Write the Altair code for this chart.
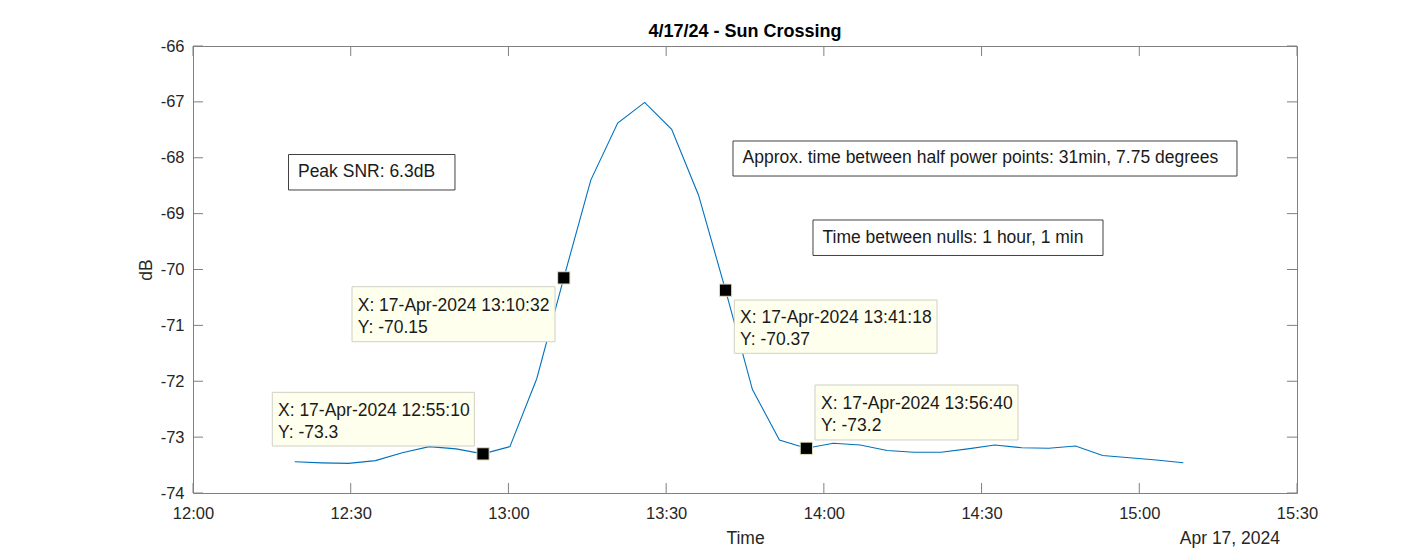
import altair as alt
import pandas as pd

# ---- measured series ----
times = [
    "2024-04-17T12:19:21", "2024-04-17T12:24:28", "2024-04-17T12:29:35", "2024-04-17T12:34:42",
    "2024-04-17T12:39:49", "2024-04-17T12:44:56", "2024-04-17T12:50:03", "2024-04-17T12:55:10",
    "2024-04-17T13:00:17", "2024-04-17T13:05:24", "2024-04-17T13:10:32", "2024-04-17T13:15:40",
    "2024-04-17T13:20:47", "2024-04-17T13:25:55", "2024-04-17T13:31:03", "2024-04-17T13:36:10",
    "2024-04-17T13:41:18", "2024-04-17T13:46:25", "2024-04-17T13:51:33", "2024-04-17T13:56:40",
    "2024-04-17T14:01:47", "2024-04-17T14:06:55", "2024-04-17T14:12:02", "2024-04-17T14:17:09",
    "2024-04-17T14:22:17", "2024-04-17T14:27:24", "2024-04-17T14:32:31", "2024-04-17T14:37:39",
    "2024-04-17T14:42:46", "2024-04-17T14:47:53", "2024-04-17T14:53:01", "2024-04-17T14:58:08",
    "2024-04-17T15:03:15", "2024-04-17T15:08:23",
]
db = [
    -73.44, -73.46, -73.47, -73.42, -73.28, -73.17, -73.21, -73.30,
    -73.17, -71.95, -70.15, -68.40, -67.38, -67.01, -67.49, -68.67,
    -70.37, -72.15, -73.05, -73.20, -73.11, -73.14, -73.24, -73.27,
    -73.27, -73.21, -73.14, -73.19, -73.20, -73.16, -73.33, -73.37,
    -73.41, -73.46,
]

# ---- data tips ----
marker_times = ["2024-04-17T12:55:10", "2024-04-17T13:10:32", "2024-04-17T13:41:18", "2024-04-17T13:56:40"]
marker_db = [-73.3, -70.15, -70.37, -73.2]
tip_labels = [
    "X: 17-Apr-2024 12:55:10\nY: -73.3",
    "X: 17-Apr-2024 13:10:32\nY: -70.15",
    "X: 17-Apr-2024 13:41:18\nY: -70.37",
    "X: 17-Apr-2024 13:56:40\nY: -73.2",
]
tip_x0 = ["2024-04-17T12:15:05", "2024-04-17T12:30:15", "2024-04-17T13:42:58", "2024-04-17T13:58:19"]
tip_x1 = ["2024-04-17T12:53:31", "2024-04-17T13:08:52", "2024-04-17T14:21:32", "2024-04-17T14:36:56"]
tip_y0 = [-72.198, -70.308, -70.546, -72.067]
tip_y1 = [-73.159, -71.292, -71.500, -73.051]
tip_tx = ["2024-04-17T12:16:10", "2024-04-17T12:31:20", "2024-04-17T13:44:03", "2024-04-17T13:59:28"]
tip_ty = [-72.53, -70.65, -70.87, -72.41]

# ---- text boxes ----
note_labels = [
    "Peak SNR: 6.3dB",
    "Approx. time between half power points: 31min, 7.75 degrees",
    "Time between nulls: 1 hour, 1 min",
]
note_x0 = ["2024-04-17T12:18:10", "2024-04-17T13:42:43", "2024-04-17T13:57:56"]
note_x1 = ["2024-04-17T12:49:50", "2024-04-17T15:18:35", "2024-04-17T14:53:06"]
note_y0 = [-67.942, -67.700, -69.114]
note_y1 = [-68.577, -68.327, -69.749]
note_tx = ["2024-04-17T12:19:58", "2024-04-17T13:44:32", "2024-04-17T13:59:44"]
note_ty = [-68.255, -68.013, -69.431]

# ---- axes / titles ----
title_text = "4/17/24 - Sun Crossing"
date_text = "Apr 17, 2024"
x_tick_hm = [(12, 0), (12, 30), (13, 0), (13, 30), (14, 0), (14, 30), (15, 0), (15, 30)]
x_tick_str = ["2024-04-17T%02d:%02d:00" % hm for hm in x_tick_hm]
y_ticks = [-74, -73, -72, -71, -70, -69, -68, -67, -66]

FONT = "Liberation Sans"
W, H = 1104, 447


def dt(h, m):
    return alt.DateTime(year=2024, month=4, date=17, hours=h, minutes=m)


xscale = alt.Scale(domain=[dt(12, 0), dt(15, 30)], nice=False)
yscale = alt.Scale(domain=[-74, -66], nice=False, zero=False)
AX = dict(domain=False, ticks=False, grid=False, labelFont=FONT, labelFontSize=16.5,
          labelColor="#262626", titleFont=FONT, titleFontSize=17.5,
          titleFontWeight="normal", titleColor="#262626")
xaxis = alt.Axis(values=[dt(h, m) for h, m in x_tick_hm], format="%H:%M",
                 title="Time", labelPadding=12, titlePadding=8,
                 labelFlush=False, labelOverlap=False, **AX)
yaxis = alt.Axis(values=y_ticks, title="dB", labelPadding=9, titlePadding=5,
                 labelExpr="toString(datum.value)", **AX)

series = pd.DataFrame({"t": times, "db": db})
markers = pd.DataFrame({"t": marker_times, "db": marker_db})
tips = pd.DataFrame({"label": tip_labels, "x0": tip_x0, "x1": tip_x1, "y0": tip_y0,
                     "y1": tip_y1, "tx": tip_tx, "ty": tip_ty})
notes = pd.DataFrame({"label": note_labels, "x0": note_x0, "x1": note_x1, "y0": note_y0,
                      "y1": note_y1, "tx": note_tx, "ty": note_ty})
xt = pd.DataFrame({"t": x_tick_str})
yt = pd.DataFrame({"v": y_ticks})


def X(f):
    return alt.X(f, scale=xscale, axis=xaxis)


def Y(f):
    return alt.Y(f, scale=yscale, axis=yaxis)


line = alt.Chart(series).mark_line(color="#0072BD", strokeWidth=1.1).encode(
    x=X("t:T"), y=Y("db:Q"))

xt_bottom = alt.Chart(xt).mark_rule(color="#808080", strokeWidth=1).encode(
    x=X("t:T"), y=alt.value(H), y2=alt.value(H - 10))
xt_top = alt.Chart(xt).mark_rule(color="#808080", strokeWidth=1).encode(
    x=X("t:T"), y=alt.value(0), y2=alt.value(10))
yt_left = alt.Chart(yt).mark_rule(color="#808080", strokeWidth=1).encode(
    y=Y("v:Q"), x=alt.value(0), x2=alt.value(10))
yt_right = alt.Chart(yt).mark_rule(color="#808080", strokeWidth=1).encode(
    y=Y("v:Q"), x=alt.value(W), x2=alt.value(W - 10))

tip_box = alt.Chart(tips).mark_rect(fill="#FFFFEE", stroke="#d0d0c4", strokeWidth=1).encode(
    x=X("x0:T"), x2="x1:T", y=Y("y0:Q"), y2="y1:Q")
tip_text = alt.Chart(tips).mark_text(align="left", baseline="middle", lineBreak="\n",
                                     lineHeight=22, font=FONT, fontSize=17.5,
                                     color="#1a1a1a").encode(
    x=X("tx:T"), y=Y("ty:Q"), text="label:N")

mark_pts = alt.Chart(markers).mark_square(size=150, color="#000000", opacity=1,
                                          stroke="#e0e0c0", strokeWidth=1).encode(
    x=X("t:T"), y=Y("db:Q"))

note_box = alt.Chart(notes).mark_rect(fill="#FFFFFF", stroke="#404040", strokeWidth=1).encode(
    x=X("x0:T"), x2="x1:T", y=Y("y0:Q"), y2="y1:Q")
note_text = alt.Chart(notes).mark_text(align="left", baseline="middle", font=FONT,
                                       fontSize=17.5, color="#1a1a1a").encode(
    x=X("tx:T"), y=Y("ty:Q"), text="label:N")

date_label = alt.Chart(pd.DataFrame({"s": [date_text]})).mark_text(
    align="right", baseline="top", font=FONT, fontSize=17.5, color="#262626").encode(
    x=alt.value(W - 17), y=alt.value(H + 37), text="s:N")

title_mark = alt.Chart(pd.DataFrame({"s": [title_text]})).mark_text(
    align="center", baseline="alphabetic", font=FONT, fontSize=18, fontWeight="bold",
    color="#000000").encode(
    x=alt.value(W / 2), y=alt.value(-9), text="s:N")

chart = alt.layer(
    line, xt_bottom, xt_top, yt_left, yt_right, tip_box, tip_text, mark_pts,
    note_box, note_text, date_label, title_mark,
).properties(
    width=W, height=H,
    background="#FFFFFF",
    padding={"left": 185, "top": 38, "right": 100, "bottom": 56},
    autosize=alt.AutoSizeParams(type="none"),
).configure_view(
    stroke="#808080", strokeWidth=1
).configure_axis(
    domain=False, ticks=False, grid=False,
    labelFont=FONT, labelFontSize=16.5, labelColor="#262626",
    titleFont=FONT, titleFontSize=17.5, titleFontWeight="normal", titleColor="#262626",
)

chart.save("out.html", embed_options={"renderer": "svg", "actions": False})
